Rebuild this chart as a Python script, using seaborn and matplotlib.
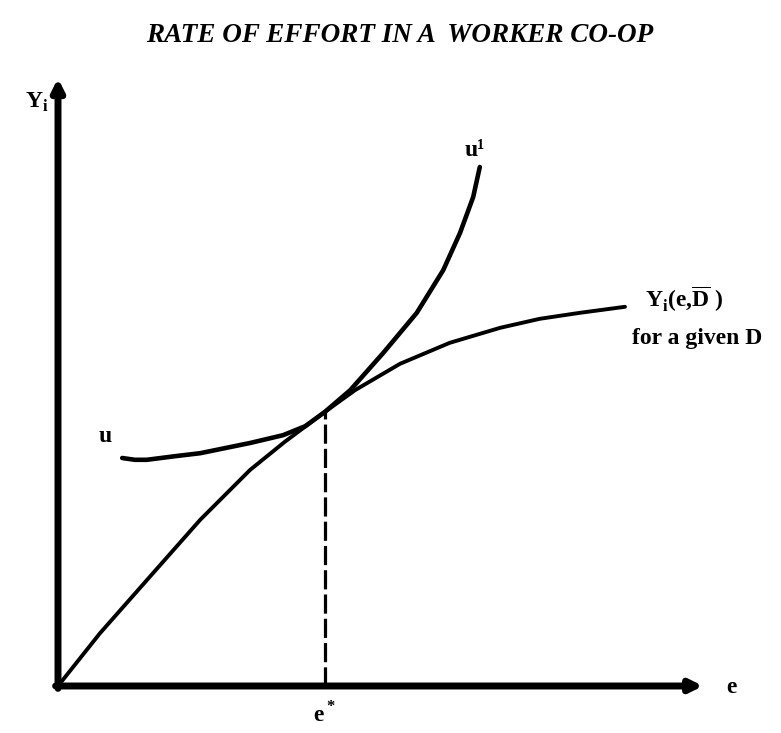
import matplotlib
matplotlib.use("Agg")
import matplotlib.pyplot as plt
import seaborn as sns
import numpy as np
import pandas as pd

sns.set_style("white")
plt.rcParams['font.family'] = ['Liberation Serif', 'DejaVu Serif']
plt.rcParams['text.color'] = 'black'
plt.rcParams['mathtext.fontset'] = 'custom'
plt.rcParams['mathtext.rm'] = 'Liberation Serif:bold'

# Data (effort e, income Y_i)
budget_e = [0, 0.70, 1.53, 2.37, 3.20, 3.78, 4.45, 4.95, 5.70, 6.53, 7.37, 8.03, 8.70, 9.45]
budget_y = [0, 0.88, 1.82, 2.77, 3.60, 4.07, 4.57, 4.93, 5.37, 5.72, 5.97, 6.12, 6.22, 6.32]

indiff_e = [1.07, 1.28, 1.48, 1.95, 2.37, 3.20, 3.75, 4.12, 4.45, 4.87, 5.42,
            5.98, 6.42, 6.70, 6.92, 7.03]
indiff_y = [3.80, 3.77, 3.77, 3.83, 3.88, 4.05, 4.18, 4.33, 4.57, 4.93, 5.55,
            6.22, 6.93, 7.55, 8.15, 8.65]

e_star = 4.45
y_star = 4.57
axis_end_e = 10.75
axis_end_y = 10.13

budget = pd.DataFrame({'e': budget_e, 'Y': budget_y})
indiff = pd.DataFrame({'e': indiff_e, 'Y': indiff_y})

fig = plt.figure(figsize=(7.81, 7.33), dpi=100)
ax = fig.add_axes([0, 0, 1, 1])

sns.lineplot(data=budget, x='e', y='Y', sort=False, estimator=None,
             color='black', linewidth=2.8, ax=ax)
sns.lineplot(data=indiff, x='e', y='Y', sort=False, estimator=None,
             color='black', linewidth=3.3, ax=ax)

# dashed drop line at e*
ax.plot([e_star, e_star], [0, y_star], color='black', linewidth=2.3,
        dashes=(6, 1.6))

# axes with arrows
arrow = dict(arrowstyle='-|>,head_length=0.7,head_width=0.35', lw=5,
             color='black', shrinkA=0, shrinkB=0)
ax.annotate('', xy=(axis_end_e, 0), xytext=(-0.04, 0), arrowprops=arrow)
ax.annotate('', xy=(0, axis_end_y), xytext=(0, -0.04), arrowprops=arrow)

fs = 17
lab = dict(fontsize=fs, fontweight='bold', va='center', color='black')
ax.text(0.78, 4.15, 'u', ha='center', **lab)
ax.text(6.95, 8.93, 'u¹', ha='center', **lab)
ax.text(9.78, 6.45, r'Y$_\mathregular{i}$(e,$\overline{\mathregular{D}}$ )',
        ha='left', **lab)
ax.text(9.57, 5.80, 'for a given D', ha='left', **lab)
ax.text(4.45, -0.48, r'e$^*$', ha='center', **lab)
ax.text(11.23, -0.03, 'e', ha='center', **lab)
ax.text(-0.35, 9.72, r'Y$_\mathregular{i}$', ha='center', **lab)

fig.text(400 / 781, 1 - 35 / 733, 'RATE OF EFFORT IN A  WORKER CO-OP',
         fontsize=19.5, fontweight='bold', fontstyle='italic',
         ha='center', va='center', color='black')

ax.set_xlim(-58 / 60, (781 - 58) / 60)
ax.set_ylim(-(733 - 686) / 60, 686 / 60)
ax.axis('off')

fig.savefig('out.png', dpi=100)
